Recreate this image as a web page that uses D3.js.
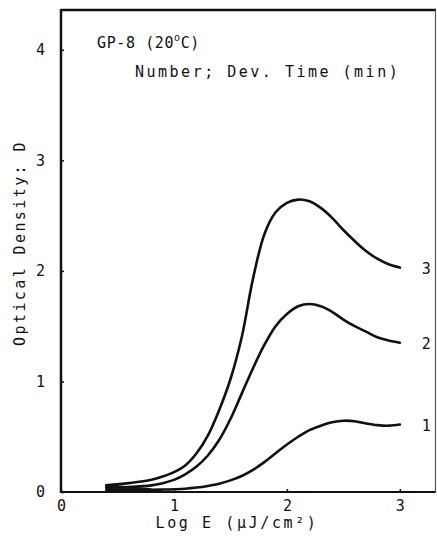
<!DOCTYPE html>
<html><head><meta charset="utf-8">
<script src="https://cdn.jsdelivr.net/npm/d3@7"></script>
<style>body{margin:0;background:#fff}svg{display:block}text{font-family:"DejaVu Sans Mono",monospace;fill:#111}</style>
</head><body><svg id="c" width="437" height="536"></svg>
<script>
const xTicks=[0,1,2,3];
const yTicks=[0,1,2,3,4];
const logE=[0.4,0.6,0.8,0.9,1.0,1.1,1.2,1.3,1.4,1.5,1.6,1.7,1.8,1.9,2.0,2.1,2.2,2.3,2.4,2.5,2.6,2.7,2.8,2.9,3.0];
const curve3=[0.06,0.08,0.11,0.14,0.18,0.24,0.35,0.51,0.74,1.02,1.40,1.93,2.33,2.53,2.615,2.645,2.63,2.57,2.48,2.37,2.27,2.18,2.11,2.06,2.03];
const curve2=[0.04,0.045,0.06,0.08,0.11,0.16,0.23,0.33,0.47,0.66,0.89,1.12,1.33,1.50,1.61,1.68,1.70,1.68,1.63,1.56,1.50,1.45,1.40,1.37,1.35];
const curve1=[0.02,0.02,0.02,0.022,0.025,0.03,0.04,0.055,0.075,0.105,0.145,0.2,0.27,0.35,0.43,0.5,0.56,0.6,0.63,0.645,0.64,0.62,0.605,0.6,0.61];
const seriesNames=["3","2","1"];
const title="GP-8 (20";
const subtitle="Number; Dev. Time (min)";
const xLabel="Log E (μJ/cm²)";
const yLabel="Optical Density: D";

const svg=d3.select("#c");
const x=d3.scaleLinear().domain([0,3.32]).range([61,436]);
const y=d3.scaleLinear().domain([0,4.36]).range([492,10]);

// frame
svg.append("line").attr("x1",61).attr("x2",436).attr("y1",10).attr("y2",10).attr("stroke","#111").attr("stroke-width",2.5);
svg.append("line").attr("x1",61).attr("x2",61).attr("y1",9).attr("y2",493).attr("stroke","#111").attr("stroke-width",2.5);
svg.append("line").attr("x1",61).attr("x2",436).attr("y1",492).attr("y2",492).attr("stroke","#111").attr("stroke-width",2.2);
svg.append("line").attr("x1",435.5).attr("x2",435.5).attr("y1",10).attr("y2",493).attr("stroke","#555").attr("stroke-width",1.2);

// axes ticks
const gx=svg.append("g").attr("transform","translate(0,492)").call(d3.axisBottom(x).tickValues(xTicks).tickSize(-3).tickPadding(8).tickFormat(d3.format("d")));
gx.select(".domain").remove();
gx.selectAll("line").attr("stroke","#111").attr("stroke-width",1.5);
gx.selectAll("text").attr("font-size",15).style("font-family","DejaVu Sans Mono").attr("fill","#111");
const gy=svg.append("g").attr("transform","translate(61,0)").call(d3.axisLeft(y).tickValues(yTicks).tickSize(-3).tickPadding(16).tickFormat(d3.format("d")));
gy.select(".domain").remove();
gy.selectAll("line").attr("stroke","#111").attr("stroke-width",1.5);
gy.selectAll("text").attr("font-size",15).style("font-family","DejaVu Sans Mono").attr("fill","#111");

// curves
const line=d3.line().x((d,i)=>x(logE[i])).y(d=>y(d)).curve(d3.curveCatmullRom.alpha(0.5));
[curve3,curve2,curve1].forEach((c,k)=>{
  svg.append("path").attr("d",line(c)).attr("fill","none").attr("stroke","#111").attr("stroke-width",2.6).attr("stroke-linecap","round");
  svg.append("text").attr("x",x(3.0)+22).attr("y",y(c[c.length-1])+6).attr("font-size",15).text(seriesNames[k]);
});
// thick start blob
svg.append("path").attr("d",`M${x(0.4)},${y(0)} L${x(0.4)},${y(0.07)} L${x(0.8)},${y(0.035)} L${x(0.8)},${y(0)} Z`).attr("fill","#111");

// texts
const t=svg.append("text").attr("x",97).attr("y",48).attr("font-size",15).attr("letter-spacing",0.6);
t.append("tspan").text(title);
t.append("tspan").attr("dy",-7).attr("font-size",10).text("o");
t.append("tspan").attr("dy",7).text("C)");
svg.append("text").attr("x",135).attr("y",77).attr("font-size",15).attr("letter-spacing",2.5).text(subtitle);
svg.append("text").attr("x",237).attr("y",528).attr("text-anchor","middle").attr("font-size",15).attr("letter-spacing",2.6).text(xLabel);
svg.append("text").attr("transform","translate(25,243) rotate(-90)").attr("text-anchor","middle").attr("font-size",15).attr("letter-spacing",2.4).text(yLabel);
</script></body></html>
